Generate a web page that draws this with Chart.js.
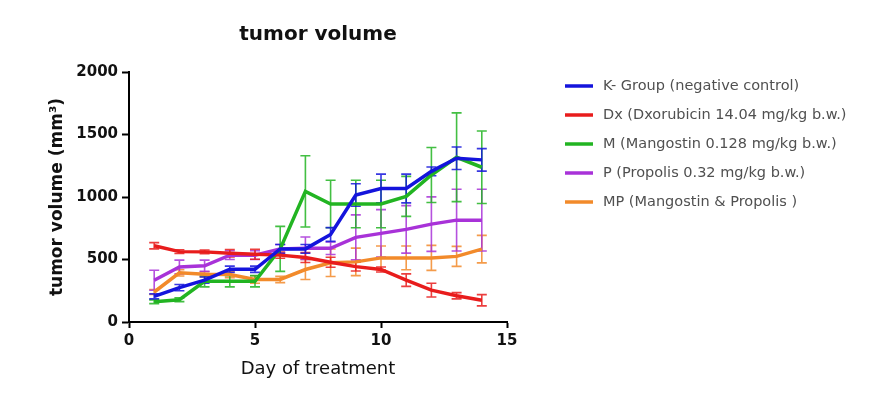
<!DOCTYPE html>
<html>
<head>
<meta charset="utf-8">
<script src="https://cdn.jsdelivr.net/npm/chart.js@4/dist/chart.umd.min.js"></script>
<style>
  html, body { margin: 0; padding: 0; background: #ffffff; }
  #wrap { width: 893px; height: 400px; position: relative; }
</style>
</head>
<body>
<div id="wrap"><canvas id="c"></canvas></div>
<script>
// ---- data ----
const days = [1, 2, 3, 4, 5, 6, 7, 8, 9, 10, 11, 12, 13, 14];
const seriesLabels = [
  "K- Group (negative control)",
  "Dx (Dxorubicin 14.04 mg/kg b.w.)",
  "M (Mangostin 0.128 mg/kg b.w.)",
  "P (Propolis 0.32 mg/kg b.w.)",
  "MP (Mangostin & Propolis )"
];
const kGroup    = [205, 275, 335, 422, 422, 585, 585, 700, 1016, 1068, 1068, 1205, 1310, 1297];
const kGroupErr = [20, 25, 25, 25, 25, 35, 35, 55, 90, 115, 115, 35, 90, 90];
const dx        = [610, 563, 561, 550, 542, 535, 516, 478, 443, 420, 335, 255, 210, 174];
const dxErr     = [25, 15, 15, 30, 40, 25, 40, 40, 35, 20, 50, 55, 25, 45];
const mang      = [162, 178, 326, 326, 326, 585, 1045, 944, 944, 944, 1005, 1176, 1318, 1238];
const mangErr   = [15, 15, 45, 45, 45, 180, 285, 190, 190, 190, 160, 220, 355, 290];
const prop      = [334, 440, 450, 535, 535, 585, 590, 590, 677, 709, 741, 783, 815, 815];
const propErr   = [80, 55, 45, 35, 35, 35, 90, 50, 180, 190, 190, 218, 247, 247];
const mp        = [240, 393, 382, 380, 340, 340, 420, 474, 481, 513, 513, 513, 525, 583];
const mpErr     = [20, 25, 20, 25, 30, 25, 80, 110, 110, 95, 95, 100, 80, 110];
const xTicks = [0, 5, 10, 15];
const yTicks = [0, 500, 1000, 1500, 2000];

const colors = ["#1414dc", "#e81c1c", "#22b422", "#a832d8", "#f28a2a"];
const values = [kGroup, dx, mang, prop, mp];
const errors = [kGroupErr, dxErr, mangErr, propErr, mpErr];

const FONT = "'DejaVu Sans', 'Liberation Sans', Arial, sans-serif";

const datasets = values.map((vals, i) => ({
  label: seriesLabels[i],
  data: days.map((d, j) => ({ x: d, y: vals[j] })),
  errors: errors[i],
  borderColor: colors[i],
  backgroundColor: colors[i],
  borderWidth: 3.5,
  pointRadius: 0,
  tension: 0,
  fill: false
}));

const errorBars = {
  id: 'errorBars',
  beforeDatasetsDraw(chart) {
    const { ctx, scales: { x, y } } = chart;
    ctx.save();
    for (let i = chart.data.datasets.length - 1; i >= 0; i--) {
      const ds = chart.data.datasets[i];
      ctx.strokeStyle = ds.borderColor;
      ctx.globalAlpha = 0.85;
      ctx.lineWidth = 1.6;
      ds.data.forEach((p, j) => {
        const e = ds.errors[j];
        const px = x.getPixelForValue(p.x);
        const yt = y.getPixelForValue(p.y + e);
        const yb = y.getPixelForValue(p.y - e);
        ctx.beginPath();
        ctx.moveTo(px, yt); ctx.lineTo(px, yb);
        ctx.moveTo(px - 5, yt); ctx.lineTo(px + 5, yt);
        ctx.moveTo(px - 5, yb); ctx.lineTo(px + 5, yb);
        ctx.stroke();
      });
    }
    ctx.restore();
  }
};

const sideLegend = {
  id: 'sideLegend',
  afterDraw(chart) {
    const { ctx, chartArea } = chart;
    ctx.save();
    chart.data.datasets.forEach((ds, i) => {
      const yy = chartArea.top + 14 + i * 29;
      const x0 = chartArea.right + 58;
      ctx.strokeStyle = ds.borderColor;
      ctx.lineWidth = 3.5;
      ctx.beginPath();
      ctx.moveTo(x0, yy); ctx.lineTo(x0 + 28, yy);
      ctx.stroke();
      ctx.fillStyle = '#505050';
      ctx.font = "14.5px " + FONT;
      ctx.textBaseline = 'middle';
      ctx.textAlign = 'left';
      ctx.fillText(ds.label, x0 + 38, yy);
    });
    ctx.restore();
  }
};

new Chart(document.getElementById('c'), {
  type: 'line',
  data: { datasets },
  options: {
    responsive: true,
    maintainAspectRatio: false,
    animation: false,
    layout: { padding: { left: 0, right: 386, top: 0, bottom: 0 } },
    plugins: {
      legend: { display: false },
      tooltip: { enabled: false },
      title: {
        display: true,
        text: 'tumor volume',
        fullSize: false,
        color: '#111',
        font: { family: FONT, size: 20, weight: 'bold' },
        padding: { top: 23, bottom: 25 }
      }
    },
    scales: {
      x: {
        type: 'linear',
        min: 0, max: 15,
        afterBuildTicks(s) { s.ticks = xTicks.map(v => ({ value: v })); },
        afterFit(s) { s.height = 78; },
        border: { display: true, color: '#000', width: 2 },
        grid: { display: true, drawOnChartArea: false, drawTicks: true, tickLength: 6, tickWidth: 2, tickColor: '#000' },
        ticks: { color: '#111', padding: 4, font: { family: FONT, size: 15, weight: 'bold' }, maxRotation: 0,
                 callback: v => String(v) },
        title: {
          display: true, text: 'Day of treatment', color: '#111',
          font: { family: FONT, size: 18 },
          padding: { top: 0, bottom: 20 }
        }
      },
      y: {
        type: 'linear',
        min: 0, max: 2000,
        afterBuildTicks(s) { s.ticks = yTicks.map(v => ({ value: v })); },
        afterFit(s) { s.width = 129; },
        border: { display: true, color: '#000', width: 2 },
        grid: { display: true, drawOnChartArea: false, drawTicks: true, tickLength: 7, tickWidth: 2, tickColor: '#000' },
        ticks: { color: '#111', padding: 4, font: { family: FONT, size: 15, weight: 'bold' },
                 callback: v => String(v) },
        title: {
          display: true, text: 'tumor volume (mm³)', color: '#111',
          font: { family: FONT, size: 17, weight: 'bold' },
          padding: { top: 47, bottom: 0 }
        }
      }
    }
  },
  plugins: [errorBars, sideLegend]
});
</script>
</body>
</html>
